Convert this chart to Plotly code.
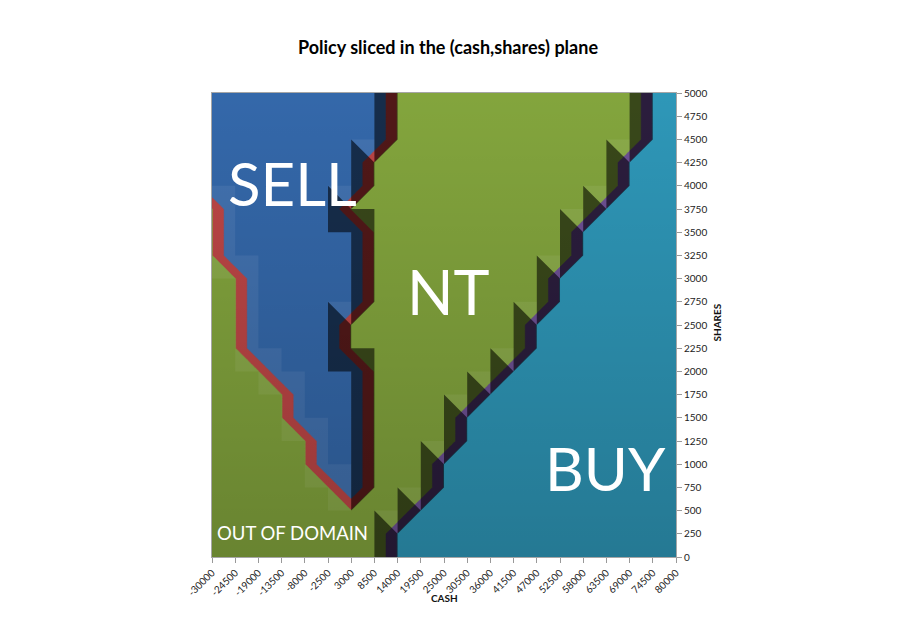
import numpy as np
import plotly.graph_objects as go

# ---------------- data ----------------
cash_ticks = [-30000, -24500, -19000, -13500, -8000, -2500, 3000, 8500, 14000,
              19500, 25000, 30500, 36000, 41500, 47000, 52500, 58000, 63500,
              69000, 74500, 80000]
share_ticks = [0, 250, 500, 750, 1000, 1250, 1500, 1750, 2000, 2250, 2500,
               2750, 3000, 3250, 3500, 3750, 4000, 4250, 4500, 4750, 5000]

# policy at each (cash, shares) node; rows from shares=5000 (top) down to 0
# S = sell, N = no trade, B = buy, O = out of domain
policy_rows = [
    "SSSSSSSSNNNNNNNNNNNBB",  # 5000
    "SSSSSSSSNNNNNNNNNNNBB",  # 4750
    "SSSSSSSSNNNNNNNNNNNBB",  # 4500
    "SSSSSSSNNNNNNNNNNNBBB",  # 4250
    "SSSSSSSNNNNNNNNNNNBBB",  # 4000
    "OSSSSSNNNNNNNNNNNBBBB",  # 3750
    "OSSSSSSNNNNNNNNNBBBBB",  # 3500
    "OSSSSSSNNNNNNNNNBBBBB",  # 3250
    "OOSSSSSNNNNNNNNBBBBBB",  # 3000
    "OOSSSSSNNNNNNNNBBBBBB",  # 2750
    "OOSSSSNNNNNNNNBBBBBBB",  # 2500
    "OOSSSSNNNNNNNNBBBBBBB",  # 2250
    "OOOSSSSNNNNNNBBBBBBBB",  # 2000
    "OOOOSSSNNNNNBBBBBBBBB",  # 1750
    "OOOOSSSNNNNBBBBBBBBBB",  # 1500
    "OOOOOSSNNNNBBBBBBBBBB",  # 1250
    "OOOOOSSNNNBBBBBBBBBBB",  # 1000
    "OOOOOOSNNNBBBBBBBBBBB",  # 750
    "OOOOOOONNBBBBBBBBBBBB",  # 500
    "OOOOOOONBBBBBBBBBBBBB",  # 250
    "OOOOOOONBBBBBBBBBBBBB",  # 0
]
action_value = {"S": -1.0, "N": 0.0, "O": 0.0, "B": 1.0}

# ---------------- styling ----------------
BLUE = "#3468AA"
RED = "#B83838"
GREEN = "#83A53D"
PURPLE = "#62438C"
TEAL = "#2E97B8"
FONT = "Lato"
OFF = 8  # page body margin of the html page

z = np.array([[action_value[c] for c in row] for row in policy_rows[::-1]])

fig = go.Figure()

# colour bands of the surface (Excel-like surface banding)
bands = [(-0.5, RED), (-0.02, GREEN), (0.5, PURPLE), (0.98, TEAL)]
for lvl, col in bands:
    fig.add_trace(go.Contour(
        x=cash_ticks, y=share_ticks, z=z,
        contours=dict(type="constraint", operation="<", value=lvl),
        fillcolor=col, line=dict(width=0.5, color=col, smoothing=0),
        showscale=False, hoverinfo="skip", showlegend=False))

# relief shading of the steep faces, derived from the policy grid
X = np.array(cash_ticks, float)
Y = np.array(share_ticks, float)
dark_x, dark_y, lit_x, lit_y = [], [], [], []
for j in range(len(Y) - 1):
    for i in range(len(X) - 1):
        vBL, vBR, vTL, vTR = z[j, i], z[j, i + 1], z[j + 1, i], z[j + 1, i + 1]
        pBL, pBR = (X[i], Y[j]), (X[i + 1], Y[j])
        pTL, pTR = (X[i], Y[j + 1]), (X[i + 1], Y[j + 1])
        if vTL == vTR == vBL != vBR:
            # split along top-left / bottom-right diagonal
            tris = [((pTL, pTR, pBR), vTR - vTL, vTR - vBR),
                    ((pTL, pBL, pBR), vBR - vBL, vTL - vBL)]
        else:
            # split along bottom-left / top-right diagonal
            tris = [((pBL, pBR, pTR), vBR - vBL, vTR - vBR),
                    ((pBL, pTL, pTR), vTR - vTL, vTL - vBL)]
        for pts, gx, gy in tris:
            if gx > 0 or (gx == 0 and gy > 0):
                tx, ty = dark_x, dark_y
            elif gx < 0 or (gx == 0 and gy < 0):
                tx, ty = lit_x, lit_y
            else:
                continue
            for p in pts + (pts[0],):
                tx.append(p[0]); ty.append(p[1])
            tx.append(None); ty.append(None)

for sx, sy, col in [(dark_x, dark_y, "rgba(0,0,0,0.56)"),
                    (lit_x, lit_y, "rgba(255,255,255,0.07)")]:
    fig.add_trace(go.Scatter(x=sx, y=sy, mode="lines", fill="toself",
                             fillcolor=col, line=dict(width=0),
                             hoverinfo="skip", showlegend=False))

# vertical lighting gradient of the surface
fig.add_trace(go.Scatter(
    x=[X[0], X[-1], X[-1], X[0], X[0]], y=[Y[0], Y[0], Y[-1], Y[-1], Y[0]],
    mode="lines", fill="toself", line=dict(width=0),
    fillgradient=dict(type="vertical",
                      colorscale=[[0, "rgba(0,0,0,0.2)"], [1, "rgba(0,0,0,0)"]]),
    hoverinfo="skip", showlegend=False))

ann_font = dict(family=FONT, color="white")
annotations = [
    dict(x=-10900, y=4030, text="SELL", font=dict(size=60, **ann_font)),
    dict(x=26000, y=2860, text="NT", font=dict(size=61, **ann_font)),
    dict(x=63300, y=960, text="BUY", font=dict(size=60, **ann_font)),
    dict(x=-10900, y=255, text="OUT OF DOMAIN", font=dict(size=18.5, **ann_font)),
]
for a in annotations:
    a.update(xref="x", yref="y", showarrow=False, xanchor="center", yanchor="middle")

annotations += [
    dict(x=0.5, y=-0.088, xref="paper", yref="paper", text="<b>CASH</b>",
         showarrow=False, font=dict(family=FONT, size=10, color="#111"),
         xanchor="center", yanchor="middle"),
    dict(x=1.089, y=0.506, xref="paper", yref="paper", text="<b>SHARES</b>",
         showarrow=False, textangle=-90, font=dict(family=FONT, size=10, color="#111"),
         xanchor="center", yanchor="middle"),
]

fig.update_layout(
    width=897, height=634,
    margin=dict(l=212 - OFF, r=897 - (676 - OFF), t=93 - OFF, b=634 - (557 - OFF)),
    paper_bgcolor="white", plot_bgcolor=BLUE,
    title=dict(text="<b>Policy sliced in the (cash,shares) plane</b>",
               x=(448 - OFF) / 897, xref="container", xanchor="center",
               y=1 - (48 - OFF) / 634, yanchor="middle",
               font=dict(family=FONT, size=18, color="black")),
    annotations=annotations,
    xaxis=dict(range=[cash_ticks[0], cash_ticks[-1]], tickvals=cash_ticks,
               ticktext=[str(v) for v in cash_ticks], tickangle=-45,
               ticks="outside", ticklen=5, tickcolor="#999", automargin=False,
               showgrid=False, zeroline=False, showline=True, mirror=True,
               linecolor="#A6A6A6", linewidth=1,
               tickfont=dict(family=FONT, size=10, color="#222")),
    yaxis=dict(range=[share_ticks[0], share_ticks[-1]], tickvals=share_ticks,
               ticktext=[str(v) for v in share_ticks], side="right",
               ticks="outside", ticklen=5, tickcolor="#999", automargin=False,
               showgrid=False, zeroline=False, showline=True, mirror=True,
               linecolor="#A6A6A6", linewidth=1,
               tickfont=dict(family=FONT, size=10, color="#222")),
)

fig.write_html("out.html")
